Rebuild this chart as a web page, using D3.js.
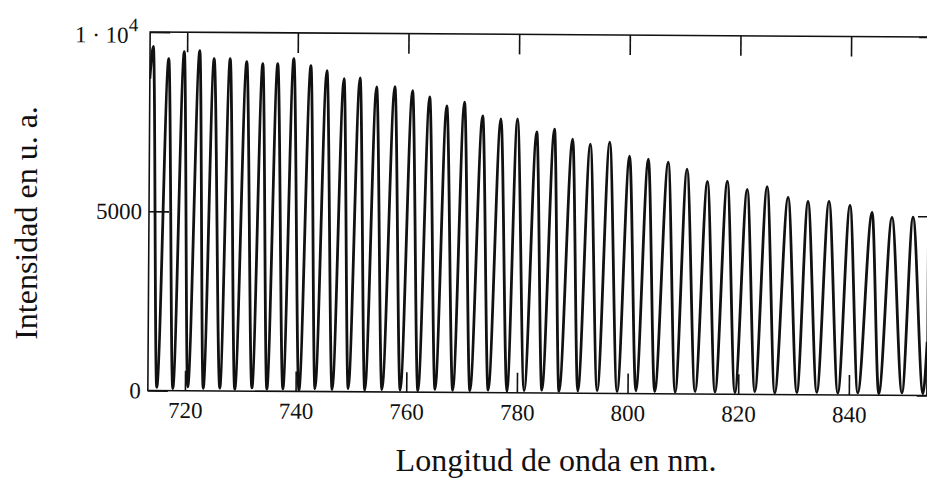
<!DOCTYPE html>
<html>
<head>
<meta charset="utf-8">
<script src="https://cdn.jsdelivr.net/npm/d3@7"></script>
<style>
  body { margin: 0; background: #fff; }
  svg { display: block; }
  text { font-family: "Liberation Serif", "Times New Roman", serif; fill: #111; }
</style>
</head>
<body>
<div class="container"></div>
<script>
// wavelength (nm) and intensity of every fringe maximum
const peakWl = [713.9, 716.7, 719.5, 722.3, 724.9, 727.8, 730.8, 733.7, 736.4, 739.3,
  742.4, 745.3, 748.4, 751.3, 754.3, 757.6, 760.8, 763.9, 767.0, 770.2,
  773.5, 776.8, 779.8, 783.3, 786.5, 789.8, 793.0, 796.5, 800.1, 803.5,
  807.1, 810.5, 814.2, 817.8, 821.4, 825.0, 828.8, 832.4, 836.2, 840.0,
  844.0, 847.6, 851.4]
const peakVal = [9600, 9260, 9460, 9490, 9270, 9270, 9190, 9140, 9140, 9280,
  9090, 8950, 8730, 8760, 8510, 8520, 8410, 8240, 7990, 8100,
  7720, 7640, 7640, 7280, 7360, 7090, 6950, 7010, 6620, 6540,
  6460, 6270, 5930, 5940, 5720, 5800, 5500, 5390, 5400, 5290,
  5100, 4960, 4970]

// fringe minima
const valleyWl = [714.9, 717.8, 720.5, 723.3, 726.3, 729.0, 732.1, 734.8, 737.7, 740.6,
  743.5, 746.6, 749.5, 752.5, 755.6, 758.9, 762.1, 765.2, 768.4, 771.5,
  774.8, 778.2, 781.3, 784.5, 787.6, 791.0, 794.5, 798.1, 801.5, 804.9,
  808.6, 812.2, 815.8, 819.4, 823.0, 826.6, 830.6, 834.2, 838.0, 841.6,
  845.4, 849.6, 853.4]
const valleyVal = [90, 60, 110, 70, 80, 50, 90, 60, 70, 40,
  80, 60, 90, 50, 70, 60, 40, 80, 60, 50,
  70, 40, 60, 80, 50, 60, 70, 50, 80, 60,
  50, 70, 60, 50, 80, 40, 60, 70, 50, 60,
  40, 70, 50]

// ends of the trace at the frame
const edgeWl = [713.3, 854.1]
const edgeVal = [8700, 1500]

const xTicks = [720, 740, 760, 780, 800, 820, 840]
const yTicks = [0, 5000, 10000]
const xTitle = "Longitud de onda en nm."
const yTitle = "Intensidad en u. a."

const width = 927, height = 481
const margin = {left: 149, right: 928, top: 34.5, bottom: 393}

let svg = d3.select(".container").append("svg")
  .attr("width", width)
  .attr("height", height)

// the scan is turned a little clockwise
let g = svg.append("g")
  .attr("transform", `rotate(0.37, ${(margin.left + margin.right) / 2}, ${(margin.top + margin.bottom) / 2})`)

let x = d3.scaleLinear().domain([713.3, 854.1]).range([margin.left, margin.right])
let y = d3.scaleLinear().domain([0, 10000]).range([margin.bottom, margin.top])

let pts = []
peakWl.forEach((w, i) => pts.push([w, peakVal[i]]))
valleyWl.forEach((w, i) => pts.push([w, valleyVal[i]]))
edgeWl.forEach((w, i) => pts.push([w, edgeVal[i]]))
pts.sort((a, b) => a[0] - b[0])

g.append("clipPath").attr("id", "plot")
  .append("rect")
  .attr("x", margin.left).attr("y", margin.top - 5)
  .attr("width", margin.right - margin.left)
  .attr("height", margin.bottom - margin.top + 5)

const line = d3.line()
  .x(d => x(d[0]))
  .y(d => y(d[1]))
  .curve(d3.curveMonotoneX)

g.append("path")
  .datum(pts)
  .attr("clip-path", "url(#plot)")
  .attr("fill", "none")
  .attr("stroke", "#111")
  .attr("stroke-width", 2.8)
  .attr("stroke-linejoin", "round")
  .attr("d", line)

// frame
g.append("rect")
  .attr("x", margin.left).attr("y", margin.top)
  .attr("width", margin.right - margin.left)
  .attr("height", margin.bottom - margin.top)
  .attr("fill", "none")
  .attr("stroke", "#111")
  .attr("stroke-width", 1.6)

let xAxis = g.append("g")
  .attr("transform", `translate(0, ${margin.bottom})`)
  .call(d3.axisBottom(x).tickValues(xTicks).tickSize(-20).tickPadding(11).tickFormat(d3.format("d")))
g.append("g")
  .attr("transform", `translate(0, ${margin.top})`)
  .call(d3.axisTop(x).tickValues(xTicks).tickSize(-20).tickFormat(""))

let yAxis = g.append("g")
  .attr("transform", `translate(${margin.left}, 0)`)
  .call(d3.axisLeft(y).tickValues(yTicks).tickSize(-20).tickPadding(7).tickFormat(d => d == 10000 ? "" : d3.format("d")(d)))
g.append("g")
  .attr("transform", `translate(${margin.right}, 0)`)
  .call(d3.axisRight(y).tickValues(yTicks).tickSize(-10).tickFormat(""))

g.selectAll(".domain").remove()
g.selectAll(".tick line").attr("stroke", "#111").attr("stroke-width", 1.6)
g.selectAll(".tick text").style("font-size", "23px").style("font-family", "'Liberation Serif', serif").attr("fill", "#111")

// 1·10^4 label on the top tick
let topLabel = yAxis.selectAll(".tick").filter(d => d == 10000).select("text")
topLabel.attr("x", -12).attr("dy", "0.45em")
topLabel.append("tspan").text("1 \u00b7 10")
topLabel.append("tspan").text("4").attr("dy", "-0.6em").style("font-size", "19px")

svg.append("text")
  .attr("x", 556).attr("y", 471)
  .attr("text-anchor", "middle")
  .style("font-size", "32px")
  .text(xTitle)

svg.append("text")
  .attr("transform", `translate(37, 223) rotate(-90)`)
  .attr("text-anchor", "middle")
  .style("font-size", "32px")
  .text(yTitle)
</script>
</body>
</html>
